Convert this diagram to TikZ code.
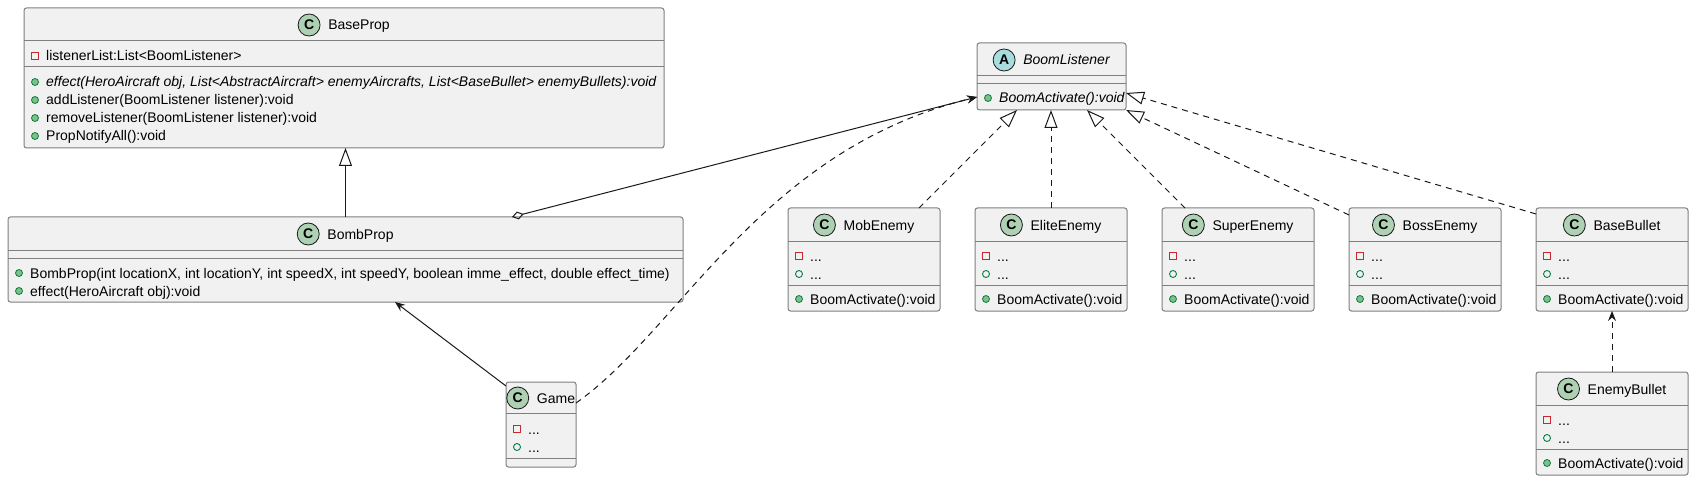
\documentclass[tikz,border=0pt]{standalone}
\usepackage{fontspec}
\setmainfont{Liberation Sans}
\usetikzlibrary{arrows.meta,calc}
\definecolor{boxfill}{HTML}{F1F1F1}
\definecolor{boxline}{HTML}{7F7F7F}
\definecolor{ink}{HTML}{181818}
\definecolor{privc}{HTML}{C82930}
\definecolor{pubc}{HTML}{038048}
\definecolor{methc}{HTML}{84BE84}
\definecolor{clsc}{HTML}{ADD1B2}
\definecolor{absc}{HTML}{A9DCDF}
\tikzset{
  cls/.style={draw=boxline, fill=boxfill, line width=1pt, rounded corners=2.5pt, anchor=north west, inner sep=0pt, outer sep=0pt},
  divline/.style={draw=boxline, line width=1pt},
  hdr/.style={inner sep=0pt, text height=10pt, text depth=0pt, font=\fontsize{14pt}{16pt}\selectfont},
  letter/.style={circle, draw=ink, line width=0.8pt, minimum size=22pt, inner sep=0pt, font=\fontsize{14pt}{14pt}\selectfont\bfseries},
  mtext/.style={anchor=west, inner sep=0pt, text height=10pt, text depth=0pt, font=\fontsize{14pt}{16pt}\selectfont},
  priv/.style={rectangle, draw=privc, line width=0.9pt, minimum size=7pt, inner sep=0pt},
  fld/.style={circle, draw=pubc, line width=0.9pt, minimum size=7pt, inner sep=0pt},
  mth/.style={circle, draw=pubc, fill=methc, line width=0.8pt, minimum size=7pt, inner sep=0pt},
  conn/.style={draw=ink, line width=1pt},
  realiz/.style={conn, dash pattern=on 6pt off 5pt},
  inh/.style={-{Triangle[open, length=18pt, width=13pt]}},
  arr/.style={-{Stealth[length=10pt, width=8pt, inset=3.5pt]}},
  aggr/.style={{Diamond[open, length=12pt, width=8pt]}-{Stealth[length=10pt, width=8pt, inset=3.5pt]}},
}
\newcommand\umlcls[5]{\node[cls, minimum width=#4pt, minimum height=#5pt] (#1) at (#2,#3) {};}
\newcommand\umldiv[2]{\draw[divline] ($(#1.north west)+(0,#2)$) -- ($(#1.north east)+(0,#2)$);}
\newcommand\umlhead[5]{%
  \node[hdr] (#1-title) at ($(#1.north)+(0,#5)$) {\hspace*{30pt}#4};
  \node[letter, fill=#3] (#1-icon) at ($(#1-title.west)+(11,0)$) {#2};}
\newcommand\umlrow[4]{%
  \node[#3] (#1-i#2) at ($(#1.north west)+(11,#2)$) {};
  \node[mtext] (#1-m#2) at ($(#1.north west)+(22,#2)$) {#4};}
\newcommand\umlleaf[3]{%
  \umlcls{#1}{#2}{#3}{152}{103}
  \umldiv{#1}{33}\umldiv{#1}{77}
  \umlhead{#1}{C}{clsc}{#1}{17}
  \umlrow{#1}{48}{priv}{...}
  \umlrow{#1}{66}{fld}{...}
  \umlrow{#1}{91}{mth}{BoomActivate():void}}
\begin{document}
\begin{tikzpicture}[x=1pt, y=-1pt]
\useasboundingbox (0,0) rectangle (1694,481);
% BaseProp
\umlcls{BaseProp}{24}{8}{640}{140}
\umldiv{BaseProp}{33}\umldiv{BaseProp}{59}
\umlhead{BaseProp}{C}{clsc}{BaseProp}{17}
\umlrow{BaseProp}{48}{priv}{listenerList:List<BoomListener>}
\umlrow{BaseProp}{74}{mth}{\itshape effect(HeroAircraft obj, List<AbstractAircraft> enemyAircrafts, List<BaseBullet> enemyBullets):void}
\umlrow{BaseProp}{92}{mth}{addListener(BoomListener listener):void}
\umlrow{BaseProp}{110}{mth}{removeListener(BoomListener listener):void}
\umlrow{BaseProp}{128}{mth}{PropNotifyAll():void}
% BombProp
\umlcls{BombProp}{8}{217}{675}{85}
\umldiv{BombProp}{33}\umldiv{BombProp}{41}
\umlhead{BombProp}{C}{clsc}{BombProp}{17}
\umlrow{BombProp}{56}{mth}{BombProp(int locationX, int locationY, int speedX, int speedY, boolean imme\_effect, double effect\_time)}
\umlrow{BombProp}{74}{mth}{effect(HeroAircraft obj):void}
% Game
\umlcls{Game}{506}{382}{70}{85}
\umldiv{Game}{31}\umldiv{Game}{76}
\umlhead{Game}{C}{clsc}{Game}{16}
\umlrow{Game}{47}{priv}{...}
\umlrow{Game}{65}{fld}{...}
% BoomListener
\umlcls{BoomListener}{977}{43}{149}{67}
\umldiv{BoomListener}{33}\umldiv{BoomListener}{41}
\umlhead{BoomListener}{A}{absc}{\itshape BoomListener}{17}
\umlrow{BoomListener}{55}{mth}{\itshape BoomActivate():void}
% leaves
\umlleaf{MobEnemy}{788}{208}
\umlleaf{EliteEnemy}{975}{208}
\umlleaf{SuperEnemy}{1162}{208}
\umlleaf{BossEnemy}{1349}{208}
\umlleaf{BaseBullet}{1536}{208}
\umlleaf{EnemyBullet}{1536}{372}
% connectors
\coordinate (aggS) at ($(BombProp.north west)+(504,0)$);
\coordinate (blIn) at ($(BoomListener.north west)+(0,54)$);
\coordinate (bpIn) at ($(BombProp.south west)+(387,0)$);
\coordinate (gmOut) at ($(Game.north west)+(0,4)$);
\coordinate (gmOut2) at ($(Game.north east)+(0,21)$);
\draw[conn, inh] (BombProp.north) -- (BombProp.north |- BaseProp.south);
\draw[conn, aggr] (aggS) -- (blIn);
\draw[conn, arr] (gmOut) -- (bpIn);
\draw[realiz, arr] (gmOut2) .. controls (680,330) and (760,150) .. (blIn);
\draw[realiz, inh] ($(MobEnemy.north west)+(131,0)$) -- ($(BoomListener.south west)+(40,0)$);
\draw[realiz, inh] (EliteEnemy.north) -- (EliteEnemy.north |- BoomListener.south);
\draw[realiz, inh] ($(SuperEnemy.north west)+(23,0)$) -- ($(BoomListener.south west)+(110,0)$);
\draw[realiz, inh] ($(BossEnemy.north west)+(0,7)$) -- (BoomListener.south east);
\draw[realiz, inh] ($(BaseBullet.north west)+(0,6)$) -- ($(BoomListener.north east)+(0,50)$);
\draw[realiz, arr] (EnemyBullet.north) -- (BaseBullet.south);
\end{tikzpicture}
\end{document}
